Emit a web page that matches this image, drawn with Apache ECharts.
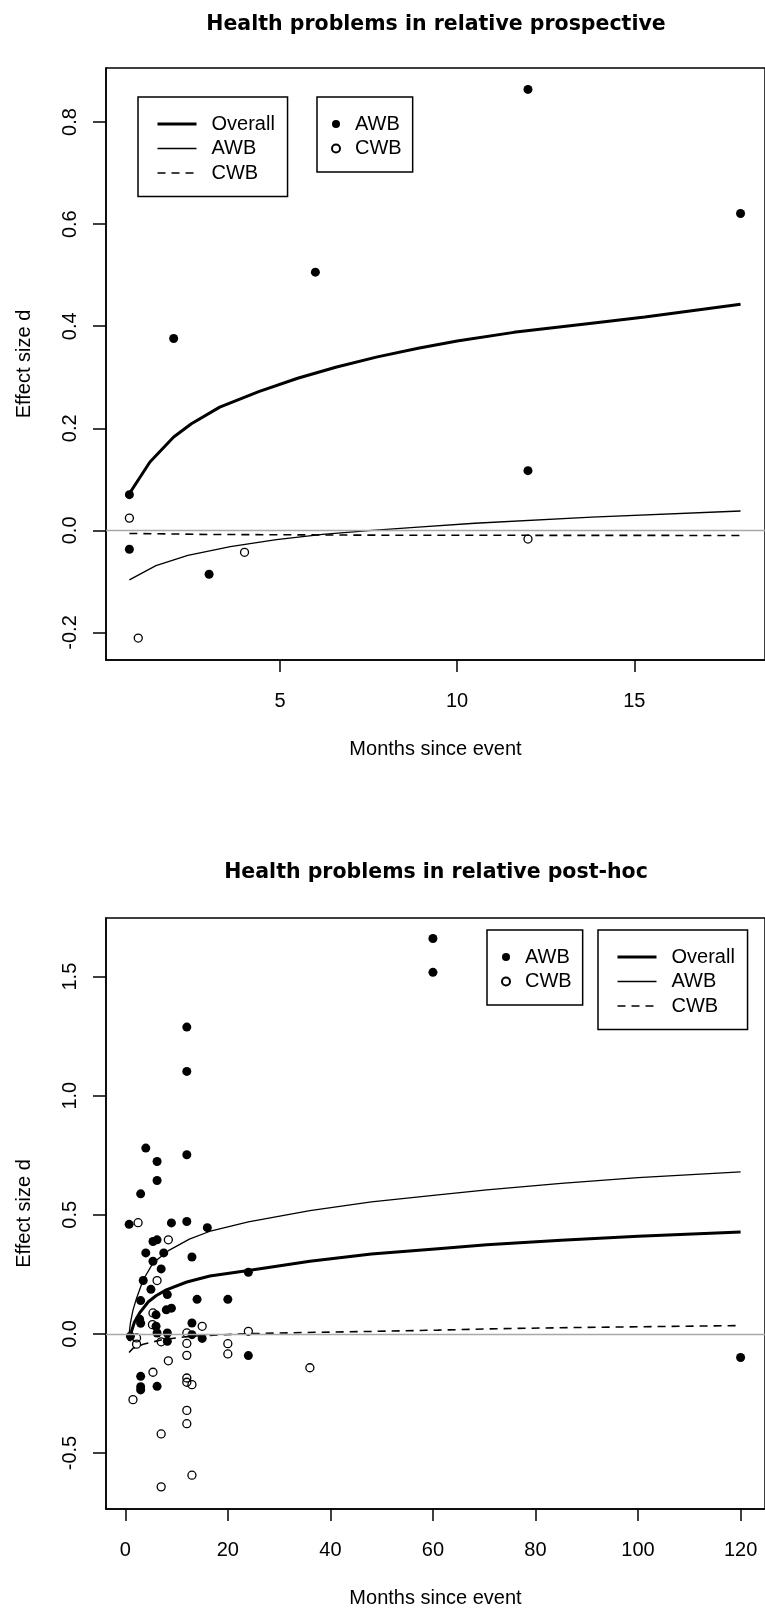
<!DOCTYPE html>
<html>
<head>
<meta charset="utf-8">
<script src="https://cdn.jsdelivr.net/npm/echarts@6/dist/echarts.min.js"></script>
<style>
html,body{margin:0;padding:0;background:#fff;}
#c{width:765px;height:1609px;}
</style>
</head>
<body>
<div id="c"></div>
<script>
// ---------- Top chart: Health problems in relative prospective ----------
const topTitle = 'Health problems in relative prospective';
const topXTicks = [5, 10, 15];
const topYTicks = [-0.2, 0, 0.2, 0.4, 0.6, 0.8];
const topAwbX = [0.75, 0.75, 2, 3, 6, 12, 12, 18];
const topAwbY = [0.070, -0.037, 0.376, -0.086, 0.506, 0.864, 0.117, 0.621];
const topCwbX = [0.75, 1, 4, 12];
const topCwbY = [0.024, -0.211, -0.043, -0.017];
const topOverallX = [0.75, 1.05, 1.33, 2.0, 2.5, 3.3, 4.4, 5.5, 6.6, 7.75, 8.9, 10, 11.6, 13.8, 15.3, 18];
const topOverallY = [0.072, 0.104, 0.134, 0.183, 0.209, 0.2415, 0.272, 0.298, 0.320, 0.340, 0.357, 0.371, 0.388, 0.406, 0.418, 0.443];
const topAwbLineX = [0.75, 1.5, 2.4, 3.6, 4.9, 6.2, 7.6, 9.0, 10.5, 13.8, 18];
const topAwbLineY = [-0.097, -0.069, -0.049, -0.032, -0.018, -0.008, 0.0, 0.007, 0.014, 0.026, 0.038];
const topCwbLineX = [0.75, 3, 8, 18];
const topCwbLineY = [-0.006, -0.008, -0.0095, -0.010];

// ---------- Bottom chart: Health problems in relative post-hoc ----------
const botTitle = 'Health problems in relative post-hoc';
const botXTicks = [0, 20, 40, 60, 80, 100, 120];
const botYTicks = [-0.5, 0, 0.5, 1.0, 1.5];
const botAwbX = [0.75, 9, 12, 16, 5.4, 6.2, 4, 7.5, 5.4, 7, 13, 24, 3.5, 5, 14, 20, 3, 8.2, 8, 9, 6, 2.8, 3, 6, 13, 6.2, 8.2, 8.2, 13, 15, 1, 24, 3, 3, 3, 6.2, 12, 12, 4, 6.2, 12, 6.2, 3, 60, 60, 120];
const botAwbY = [0.460, 0.466, 0.472, 0.446, 0.388, 0.395, 0.340, 0.340, 0.305, 0.273, 0.323, 0.259, 0.224, 0.187, 0.145, 0.145, 0.140, 0.165, 0.101, 0.108, 0.080, 0.062, 0.045, 0.032, 0.046, 0.004, 0.004, -0.031, -0.003, -0.019, -0.010, -0.091, -0.178, -0.222, -0.235, -0.220, 1.288, 1.102, 0.780, 0.724, 0.752, 0.644, 0.588, 1.660, 1.518, -0.099];
const botCwbX = [2.5, 8.4, 6.2, 5.4, 5.3, 15, 24, 12, 2.2, 2.2, 7, 12, 12, 20, 20, 8.4, 36, 5.4, 12, 12, 13, 1.5, 12, 12, 7, 13, 7];
const botCwbY = [0.467, 0.395, 0.224, 0.088, 0.039, 0.032, 0.011, 0.004, -0.017, -0.043, -0.033, -0.040, -0.090, -0.041, -0.084, -0.113, -0.142, -0.161, -0.185, -0.203, -0.213, -0.276, -0.321, -0.377, -0.420, -0.593, -0.642];
const botOverallX = [0.8, 1.2, 1.8, 2.8, 4.5, 6, 8, 12, 16.5, 24, 36, 48, 61, 70.5, 85, 100, 120];
const botOverallY = [-0.03, 0.01, 0.05, 0.088, 0.135, 0.16, 0.185, 0.218, 0.243, 0.266, 0.305, 0.335, 0.358, 0.374, 0.393, 0.41, 0.428];
const botAwbLineX = [0.6, 1.0, 1.5, 2.2, 3.5, 5.4, 8.6, 12.5, 16.4, 24, 36, 48, 61, 70.5, 85, 100, 120];
const botAwbLineY = [-0.025, 0.045, 0.1, 0.15, 0.2275, 0.2975, 0.352, 0.398, 0.43, 0.47, 0.518, 0.554, 0.584, 0.605, 0.632, 0.656, 0.68];
const botCwbLineX = [0.75, 1.5, 3.5, 7.3, 12.5, 24, 35, 48, 61, 70.5, 85, 100, 120];
const botCwbLineY = [-0.078, -0.06, -0.043, -0.024, -0.010, 0.001, 0.006, 0.0105, 0.016, 0.021, 0.026, 0.030, 0.035];

const legendLabels = {
  tOverall: 'Overall', tAwbLine: 'AWB', tCwbLine: 'CWB', tAwbPts: 'AWB', tCwbPts: 'CWB',
  bOverall: 'Overall', bAwbLine: 'AWB', bCwbLine: 'CWB', bAwbPts: 'AWB', bCwbPts: 'CWB'
};

const FONT = '"Liberation Sans", Arial, sans-serif';
const TFONT = '"DejaVu Sans", Verdana, sans-serif';
const W_OVERALL = 3, W_AWB = 1.3, W_CWB = 1.6;
const zip = (xs, ys) => xs.map((x, i) => [x, ys[i]]);

function xAxisCfg(grid, min, max, ticks) {
  return {
    gridIndex: grid, type: 'value', min: min, max: max,
    axisLine: {show: true, onZero: false, lineStyle: {color: '#000', width: 1.5}},
    axisTick: {show: true, inside: false, length: 12, customValues: ticks, lineStyle: {color: '#000', width: 1.5}},
    axisLabel: {customValues: ticks, margin: 31, fontSize: 20, color: '#000', fontFamily: FONT,
      formatter: v => String(Math.round(v))},
    splitLine: {show: false},
    name: 'Months since event', nameLocation: 'middle', nameGap: 79,
    nameTextStyle: {fontSize: 20, color: '#000', fontFamily: FONT}
  };
}
function yAxisCfg(grid, min, max, ticks) {
  return {
    gridIndex: grid, type: 'value', min: min, max: max,
    axisLine: {show: true, onZero: false, lineStyle: {color: '#000', width: 1.5}},
    axisTick: {show: true, inside: false, length: 13, customValues: ticks, lineStyle: {color: '#000', width: 1.5}},
    axisLabel: {customValues: ticks, rotate: 90, margin: 26, fontSize: 20, color: '#000', fontFamily: FONT,
      formatter: v => (Math.abs(v) < 1e-9 ? 0 : v).toFixed(1)},
    splitLine: {show: false},
    name: 'Effect size d', nameLocation: 'middle', nameGap: 72, nameRotate: 90,
    nameTextStyle: {fontSize: 20, color: '#000', fontFamily: FONT}
  };
}
function scatter(name, idx, xs, ys, filled) {
  return {
    name: name, type: 'scatter', xAxisIndex: idx, yAxisIndex: idx, data: zip(xs, ys),
    symbol: 'circle', symbolSize: filled ? 9 : 8, z: 3,
    itemStyle: filled ? {color: '#000', opacity: 1} : {color: 'rgba(255,255,255,0)', borderColor: '#000', borderWidth: 1.3, opacity: 1},
    emphasis: {disabled: true}
  };
}
function line(name, idx, xs, ys, width, dashed, extra) {
  const s = {
    name: name, type: 'line', xAxisIndex: idx, yAxisIndex: idx, data: zip(xs, ys),
    symbol: 'none', showSymbol: false, smooth: false, z: 4,
    lineStyle: {color: '#000', width: width, type: dashed ? [8, 6] : 'solid'},
    itemStyle: {color: '#000'},
    emphasis: {disabled: true}
  };
  return Object.assign(s, extra || {});
}
const zeroLine = {
  silent: true, symbol: ['none', 'none'], label: {show: false},
  lineStyle: {color: '#a8a8a8', width: 1.4, type: 'solid'}, data: [{yAxis: 0}]
};
function legendLines(prefix, left, top) {
  return {
    data: [
      {name: prefix + 'Overall', lineStyle: {width: W_OVERALL, type: 'solid', color: '#000'}},
      {name: prefix + 'AwbLine', lineStyle: {width: W_AWB, type: 'solid', color: '#000'}},
      {name: prefix + 'CwbLine', lineStyle: {width: W_CWB, type: [8, 6], color: '#000'}}
    ],
    left: left, top: top, orient: 'vertical', selectedMode: false,
    itemWidth: 39, itemHeight: 2, itemGap: 4.5, padding: [17, 12.7, 13.5, 18],
    borderColor: '#000', borderWidth: 1.5, backgroundColor: '#fff',
    itemStyle: {opacity: 0},
    lineStyle: {width: 'inherit', type: 'inherit'},
    formatter: n => legendLabels[n],
    textStyle: {fontSize: 20, lineHeight: 20, color: '#000', fontFamily: FONT, padding: [0, 0, 0, 10]}
  };
}
function legendPts(prefix, left, top) {
  return {
    data: [prefix + 'AwbPts', prefix + 'CwbPts'],
    left: left, top: top, orient: 'vertical', selectedMode: false,
    itemWidth: 8, itemHeight: 8, itemGap: 4.5, padding: [17, 11, 13.5, 14],
    borderColor: '#000', borderWidth: 1.5, backgroundColor: '#fff',
    formatter: n => legendLabels[n],
    textStyle: {fontSize: 20, lineHeight: 20, color: '#000', fontFamily: FONT, padding: [0, 0, 0, 10]}
  };
}

const chart = echarts.init(document.getElementById('c'), null, {renderer: 'canvas', width: 765, height: 1609});
chart.setOption({
  animation: false,
  backgroundColor: '#fff',
  title: [
    {text: topTitle, left: 431, top: 9, textAlign: 'center',
     textStyle: {fontSize: 20.5, fontWeight: 'bold', color: '#000', fontFamily: TFONT}},
    {text: botTitle, left: 431, top: 857, textAlign: 'center',
     textStyle: {fontSize: 20.5, fontWeight: 'bold', color: '#000', fontFamily: TFONT}}
  ],
  grid: [
    {left: 106, top: 68, width: 665, height: 592, show: true, borderColor: '#000', borderWidth: 1.5, backgroundColor: 'transparent'},
    {left: 106, top: 918, width: 665, height: 591, show: true, borderColor: '#000', borderWidth: 1.5, backgroundColor: 'transparent'}
  ],
  xAxis: [xAxisCfg(0, 0.09, 18.69, topXTicks), xAxisCfg(1, -3.76, 124.76, botXTicks)],
  yAxis: [yAxisCfg(0, -0.254, 0.906, topYTicks), yAxisCfg(1, -0.735, 1.746, botYTicks)],
  legend: [
    legendLines('t', 138, 97),
    legendPts('t', 317, 97),
    legendPts('b', 487, 930),
    legendLines('b', 598, 930)
  ],
  series: [
    scatter('tAwbPts', 0, topAwbX, topAwbY, true),
    scatter('tCwbPts', 0, topCwbX, topCwbY, false),
    line('tOverall', 0, topOverallX, topOverallY, W_OVERALL, false, {markLine: zeroLine, z: 2}),
    line('tAwbLine', 0, topAwbLineX, topAwbLineY, W_AWB, false),
    line('tCwbLine', 0, topCwbLineX, topCwbLineY, W_CWB, true),
    scatter('bAwbPts', 1, botAwbX, botAwbY, true),
    scatter('bCwbPts', 1, botCwbX, botCwbY, false),
    line('bOverall', 1, botOverallX, botOverallY, W_OVERALL, false, {markLine: zeroLine}),
    line('bAwbLine', 1, botAwbLineX, botAwbLineY, W_AWB, false),
    line('bCwbLine', 1, botCwbLineX, botCwbLineY, W_CWB, true)
  ]
});
</script>
</body>
</html>
